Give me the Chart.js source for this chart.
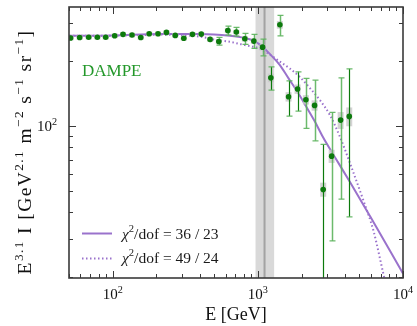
<!DOCTYPE html>
<html><head><meta charset="utf-8">
<script src="https://cdn.jsdelivr.net/npm/chart.js@4.4.0/dist/chart.umd.min.js"></script>
<style>html,body{margin:0;padding:0;background:#fff;overflow:hidden}canvas{display:block}</style>
</head><body>
<canvas id="c" width="417" height="326"></canvas>
<script>
// ---- data ----
const energy = [51.3, 59.2, 68.3, 78.4, 89.5, 103.2, 117.8, 135.9, 156.1, 178.5, 205.3, 234.6, 269.8, 308.9, 354.6, 407.7, 468.8, 538.3, 621, 711, 813.6, 938.6, 1078, 1229, 1418, 1628, 1878, 2143, 2460, 2820, 3224, 3718, 4264];
const flux   = [256, 257, 258, 258, 258, 262, 266, 264, 257, 267.5, 267.5, 271.6, 263, 255, 266, 266.7, 252, 246.6, 276.8, 272.5, 253.6, 247.5, 232, 167.3, 294.4, 136.7, 148.4, 132.4, 124.7, 50.9, 72.6, 106.6, 110.9];
const errLo  = [254, 255, 256, 256, 256, 260, 264, 262, 255, 265, 265, 269, 260, 252, 263, 263.5, 244.8, 237.1, 263.8, 261, 238.9, 228.9, 211.6, 146.8, 261.8, 111.3, 117.3, 97.6, 85.5, 10, 29.4, 45.9, 38];
const errHi  = [258, 259, 260, 260, 260, 264, 268, 266, 259, 270, 270, 274, 266, 258, 269, 270, 259.1, 257.5, 290.4, 286.4, 268.7, 265.8, 252.8, 188.2, 325.4, 162.1, 178.4, 166.3, 163.3, 82.3, 115.7, 167.3, 184.2];
const sysRel = [0.025,0.025,0.025,0.025,0.025,0.025,0.025,0.025,0.025,0.025,0.025,0.025,0.025,0.025,0.025,0.025,0.025,0.025,0.025,0.025,0.03,0.03,0.035,0.045,0.04,0.05,0.05,0.05,0.055,0.075,0.07,0.09,0.1];
const statDominated = [23, 25, 26, 29, 32];

const solidE    = [50, 100, 211, 398, 641, 813, 939, 1078, 1229, 1418, 1628, 1878, 2143, 2460, 2820, 3396, 4311, 5920, 10000];
const solidFlux = [262, 263, 266.7, 266.7, 261.8, 255.6, 248.2, 232.9, 213.2, 191.6, 166.3, 143.7, 123.8, 105.5, 88.5, 71.8, 55.1, 38.3, 20.8];
const dotE      = [50, 100, 211, 398, 505, 641, 814, 1032, 1210, 1418, 1662, 1949, 2284, 2677, 3138, 3678, 4311, 5323, 6241, 7313, 8000];
const dotFlux   = [262, 262, 265.2, 259.7, 251.5, 245.6, 237.1, 228.5, 214.3, 198.9, 184.6, 168.6, 150, 131.9, 112.4, 89.2, 67.4, 45.4, 33.0, 20.8, 16];

const breakE = 1112, breakLo = 964, breakHi = 1295;
const xTickValues = [100, 1000, 10000];
const xTickExp = ['2', '3', '4'];
const yTickValues = [100];
const yTickExp = ['2'];
const legendLabels = [['36', '23'], ['49', '24']];
const xRange = [50, 10000], yRange = [19.8, 356];

const PURPLE = '#9a72cc', GREEN_D = '#0c7a0c', GREEN_L = 'rgba(92,178,92,0.9)';
const SERIF = '"Liberation Serif", "DejaVu Serif", serif';

function richWidth(ctx, parts, F){
  let w = 0;
  for (const p of parts){
    ctx.font = (p.it ? 'italic ' : '') + (p.sup ? F*0.68 : F) + 'px ' + SERIF;
    w += ctx.measureText(p.t).width;
  }
  return w;
}
function drawRich(ctx, parts, x, y, F, align){
  const w = richWidth(ctx, parts, F);
  let cx = align === 'center' ? x - w/2 : align === 'right' ? x - w : x;
  ctx.textAlign = 'left'; ctx.textBaseline = 'alphabetic';
  for (const p of parts){
    ctx.font = (p.it ? 'italic ' : '') + (p.sup ? F*0.68 : F) + 'px ' + SERIF;
    ctx.fillText(p.t, cx, p.sup ? y - F*0.42 : y);
    cx += ctx.measureText(p.t).width;
  }
}

const bandPlugin = {
  id: 'band',
  beforeDatasetsDraw(chart){
    const {ctx, chartArea: a, scales: {x}} = chart;
    const l = x.getPixelForValue(breakLo), r = x.getPixelForValue(breakHi), m = x.getPixelForValue(breakE);
    ctx.save();
    ctx.fillStyle = '#d9d9d9';
    ctx.fillRect(l, a.top, r - l, a.bottom - a.top);
    ctx.strokeStyle = '#a3a3a3'; ctx.lineWidth = 2;
    ctx.beginPath(); ctx.moveTo(m, a.top); ctx.lineTo(m, a.bottom); ctx.stroke();
    ctx.restore();
  }
};

const errPlugin = {
  id: 'err',
  beforeDatasetDraw(chart, args){
    if (args.index !== 0) return;
    const {ctx, chartArea: a, scales: {x, y}} = chart;
    ctx.save();
    ctx.beginPath(); ctx.rect(a.left, a.top, a.right - a.left, a.bottom - a.top); ctx.clip();
    ctx.fillStyle = 'rgba(200,200,200,0.8)';
    energy.forEach((e, i) => {
      const px = x.getPixelForValue(e);
      const t = y.getPixelForValue(flux[i]*(1 + sysRel[i])), b = y.getPixelForValue(flux[i]*(1 - sysRel[i]));
      ctx.fillRect(px - 3, t, 6, b - t);
    });
    energy.forEach((e, i) => {
      const px = Math.round(x.getPixelForValue(e)) + 0.5;
      const t = y.getPixelForValue(errHi[i]), b = y.getPixelForValue(errLo[i]);
      const dark = statDominated.includes(i);
      ctx.strokeStyle = dark ? GREEN_D : GREEN_L;
      ctx.lineWidth = dark ? 1.2 : 1.5;
      ctx.beginPath(); ctx.moveTo(px, t); ctx.lineTo(px, b); ctx.stroke();
      if (b - t > 6){
        ctx.strokeStyle = GREEN_L; ctx.lineWidth = 1.3;
        ctx.beginPath();
        ctx.moveTo(px - 3, t); ctx.lineTo(px + 3, t);
        ctx.moveTo(px - 3, b); ctx.lineTo(px + 3, b);
        ctx.stroke();
      }
    });
    ctx.restore();
  }
};

const framePlugin = {
  id: 'frame',
  afterDraw(chart){
    const {ctx, chartArea: a, scales: {x, y}} = chart;
    ctx.save();
    ctx.strokeStyle = '#3a3a3a'; ctx.lineWidth = 1;
    for (let k = 1; k <= 4; k++){
      for (let m = 1; m <= 9; m++){
        const v = m * Math.pow(10, k);
        if (v < xRange[0] || v > xRange[1]) continue;
        const px = Math.round(x.getPixelForValue(v)) + 0.5;
        const len = m === 1 ? 7 : 4;
        ctx.beginPath();
        ctx.moveTo(px, a.bottom); ctx.lineTo(px, a.bottom - len);
        ctx.moveTo(px, a.top); ctx.lineTo(px, a.top + len);
        ctx.stroke();
      }
    }
    for (let k = 1; k <= 2; k++){
      for (let m = 1; m <= 9; m++){
        const v = m * Math.pow(10, k);
        if (v < yRange[0] || v > yRange[1]) continue;
        const py = Math.round(y.getPixelForValue(v)) + 0.5;
        const len = m === 1 ? 7 : 4;
        ctx.beginPath();
        ctx.moveTo(a.left, py); ctx.lineTo(a.left + len, py);
        ctx.moveTo(a.right, py); ctx.lineTo(a.right - len, py);
        ctx.stroke();
      }
    }
    ctx.lineWidth = 1.6; ctx.strokeStyle = '#3a3a3a';
    ctx.strokeRect(a.left, a.top, a.right - a.left, a.bottom - a.top);

    ctx.fillStyle = '#111';
    xTickValues.forEach((v, i) => {
      drawRich(ctx, [{t: '10'}, {t: xTickExp[i], sup: true}], x.getPixelForValue(v), a.bottom + 21, 15, 'center');
    });
    yTickValues.forEach((v, i) => {
      drawRich(ctx, [{t: '10'}, {t: yTickExp[i], sup: true}], a.left - 12, y.getPixelForValue(v) + 5, 15, 'right');
    });
    drawRich(ctx, [{t: 'E [GeV]'}], (a.left + a.right)/2, 320, 18, 'center');
    // y title with letter spacing to reach the reference length
    const yParts = [{t:'E'},{t:'3.1',sup:true},{t:' I [GeV'},{t:'2.1',sup:true},{t:' m'},{t:'\u22122',sup:true},{t:' s'},{t:'\u22121',sup:true},{t:' sr'},{t:'\u22121',sup:true},{t:']'}];
    const F = 19.5;
    const nChars = yParts.reduce((s, p) => s + p.t.length, 0);
    const w0 = richWidth(ctx, yParts, F);
    const target = 245;
    const ls = Math.max(0, (target - w0) / nChars);
    ctx.save();
    ctx.translate(31, 152);
    ctx.rotate(-Math.PI/2);
    if ('letterSpacing' in ctx){
      ctx.letterSpacing = ls.toFixed(2) + 'px';
    } else {
      ctx.scale(target / w0, 1);
    }
    drawRich(ctx, yParts, 0, 0, F, 'center');
    ctx.restore();
    ctx.fillStyle = '#23982a';
    drawRich(ctx, [{t: 'DAMPE'}], 82, 76, 17, 'left');
    ctx.strokeStyle = PURPLE; ctx.lineWidth = 2;
    ctx.beginPath(); ctx.moveTo(82, 233.5); ctx.lineTo(112, 233.5); ctx.stroke();
    ctx.setLineDash([1.5, 2.5]);
    ctx.beginPath(); ctx.moveTo(82, 258.5); ctx.lineTo(112, 258.5); ctx.stroke();
    ctx.setLineDash([]);
    ctx.fillStyle = '#1a1a1a';
    legendLabels.forEach((l, i) => {
      drawRich(ctx, [{t:'\u03c7', it:true},{t:'2',sup:true},{t:'/dof = ' + l[0] + ' / ' + l[1]}], 122, 238.5 + i*24.5, 15.5, 'left');
    });
    ctx.restore();
  }
};

new Chart(document.getElementById('c'), {
  data: {
    datasets: [
      { type: 'scatter', data: energy.map((e, i) => ({x: e, y: flux[i]})), pointRadius: 2.8, pointBackgroundColor: GREEN_D, pointBorderWidth: 0, order: 0 },
      { type: 'line', data: solidE.map((e, i) => ({x: e, y: solidFlux[i]})), borderColor: PURPLE, borderWidth: 2, pointRadius: 0, cubicInterpolationMode: 'monotone', fill: false, clip: 0, order: 1 },
      { type: 'line', data: dotE.map((e, i) => ({x: e, y: dotFlux[i]})), borderColor: PURPLE, borderWidth: 2, borderDash: [1.5, 2.5], pointRadius: 0, cubicInterpolationMode: 'monotone', fill: false, clip: 0, order: 2 }
    ]
  },
  options: {
    responsive: false, animation: false, devicePixelRatio: 1,
    layout: { padding: { left: 69, top: 7, right: 14, bottom: 48 } },
    scales: {
      x: { type: 'logarithmic', min: xRange[0], max: xRange[1], display: false },
      y: { type: 'logarithmic', min: yRange[0], max: yRange[1], display: false }
    },
    plugins: { legend: { display: false }, tooltip: { enabled: false } },
    events: []
  },
  plugins: [bandPlugin, errPlugin, framePlugin]
});
</script>
</body></html>
